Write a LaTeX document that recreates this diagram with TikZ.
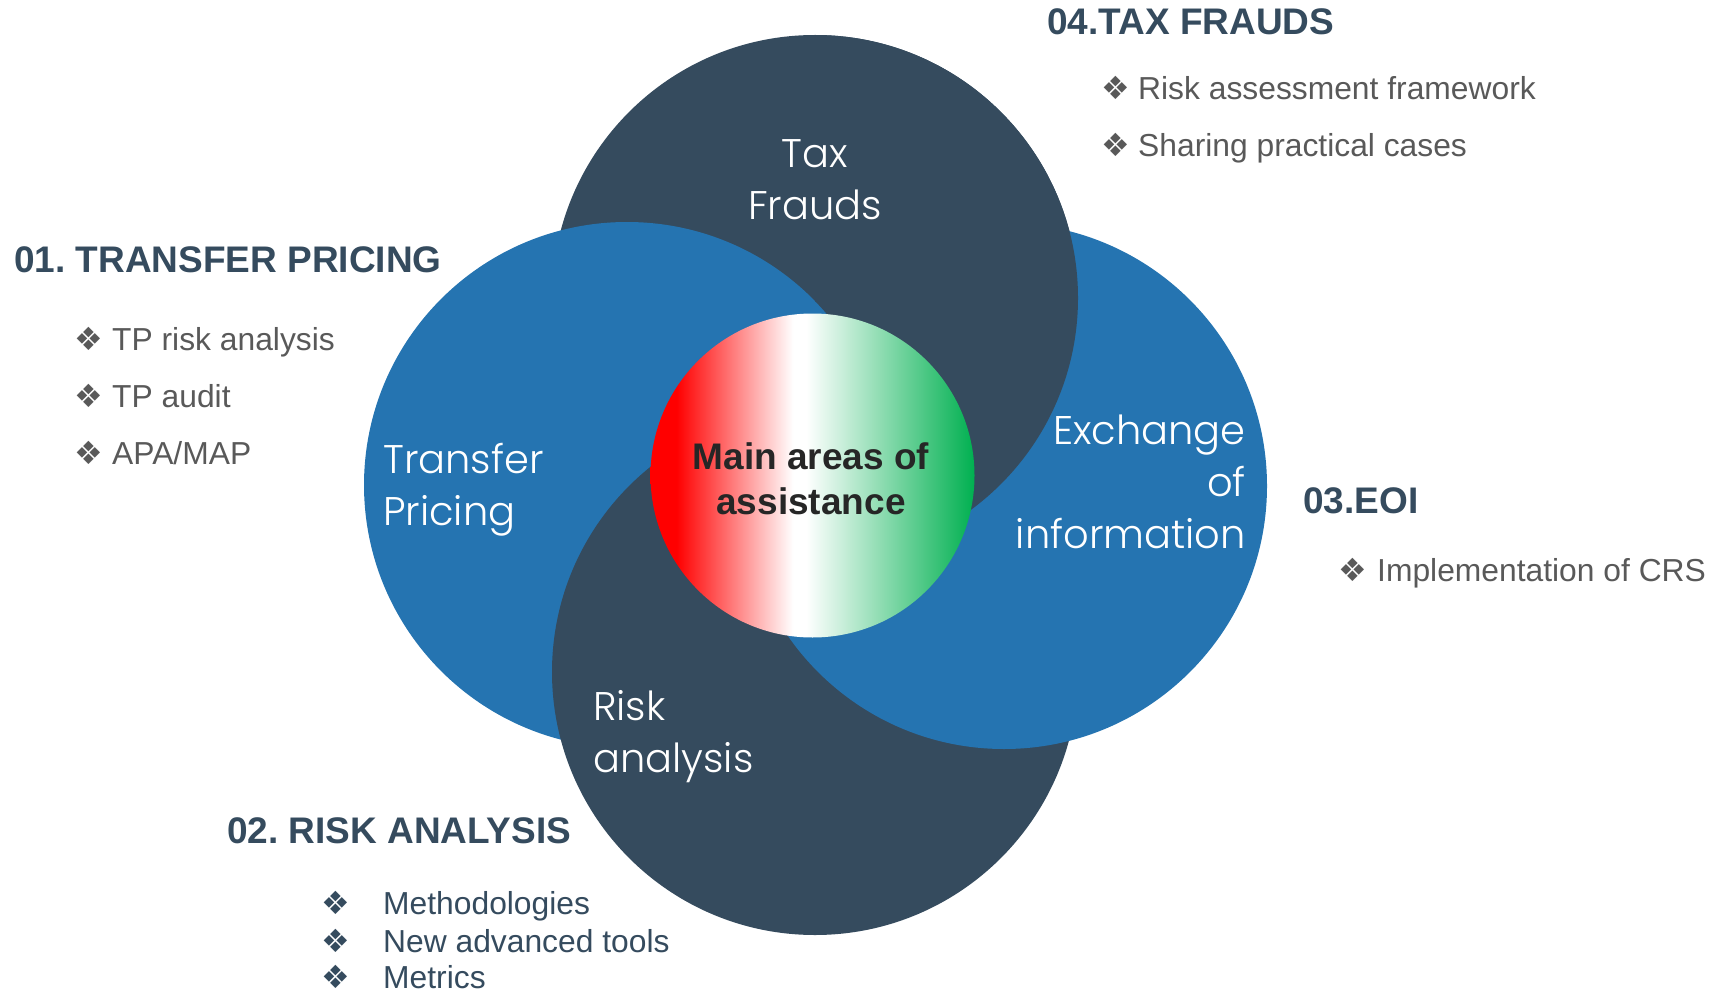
\documentclass[tikz,border=0pt]{standalone}
\usepackage{fontspec}
\setmainfont{Liberation Sans}
\newfontfamily\dingfont{DejaVu Sans}
\IfFontExistsTF{Poppins Light}{\newfontfamily\gothic{Poppins Light}}{%
  \IfFontExistsTF{Poppins-Light.ttf}{\newfontfamily\gothic{Poppins-Light.ttf}}{%
    \IfFontExistsTF{Poppins-Light.otf}{\newfontfamily\gothic{Poppins-Light.otf}}{%
      \newfontfamily\gothic{Poppins}}}}
\frenchspacing

\definecolor{slate}{HTML}{354B5E}
\definecolor{seablue}{HTML}{2574B1}
\definecolor{bodygray}{HTML}{595959}
\definecolor{hubink}{HTML}{262626}
\definecolor{flagred}{HTML}{FF0000}
\definecolor{flaggreen}{HTML}{00B050}

\pgfdeclarehorizontalshading{flag}{100bp}{color(0bp)=(flagred); color(29bp)=(flagred);
  color(47bp)=(white); color(49bp)=(white); color(75bp)=(flaggreen); color(100bp)=(flaggreen)}

\newcommand{\bul}[1]{\makebox[#1][l]{\fontsize{32}{32}\dingfont ❖}}

\begin{document}
\begin{tikzpicture}
[x=1pt, y=-1pt, inner sep=0pt,
darkdisc/.style={circle, fill=slate, minimum size=526pt},
bluedisc/.style={circle, fill=seablue, minimum size=526pt},
hubdisc/.style={circle, shade, shading=flag, minimum size=324pt},
disclabel/.style={text=white, font=\fontsize{40}{52}\gothic},
hubtext/.style={anchor=base, align=center, text=hubink, font=\bfseries\fontsize{37}{44.5}\selectfont},
heading/.style={anchor=base west, text=slate, font=\bfseries\fontsize{37}{44}\selectfont},
bulletitem/.style={anchor=base west, text=bodygray, font=\fontsize{31.8}{38}\selectfont},
bulletdark/.style={bulletitem, text=slate}]

\useasboundingbox (0,0) rectangle (1716,995);

% four discs, pinwheel order
\node[darkdisc] (fraudsdisc) at (815,298) {};
\node[bluedisc] (tpdisc) at (627,485) {};
\node[darkdisc] (riskdisc) at (815,672) {};
\node[bluedisc] (eoidisc) at (1004,486) {};
% frauds disc again over the EOI disc, but not over transfer pricing
\begin{scope}[even odd rule]
\clip (815,0) rectangle (1716,995);
\clip (0,0) rectangle (1716,995) (627,485) circle (263);
\node[darkdisc] (fraudsdisc) at (815,298) {};
\end{scope}

\node[hubdisc] (hub) at (812.5,475.5) {};
\node[hubtext] (hubtxt) at (811,514) {Main areas of\\assistance};

% base anchor sits on the last line
\node[disclabel, anchor=base, align=center] (fraudslbl) at (815,220) {Tax\\Frauds};
\node[disclabel, anchor=base west, align=left] (tplbl) at (383,525) {Transfer\\Pricing};
\node[disclabel, anchor=base east, align=right] (eoilbl) at (1246,548) {Exchange\\of\\information};
\node[disclabel, anchor=base west, align=left] (risklbl) at (593,772) {Risk\\analysis};

% 04
\node[heading] (h04) at (1047,35) {04.TAX FRAUDS};
\node[bulletitem] (f1) at (1101,100) {\bul{37pt}Risk assessment framework};
\node[bulletitem] (f2) at (1101,157) {\bul{37pt}Sharing practical cases};

% 01
\node[heading] (h01) at (14,272) {01. TRANSFER PRICING};
\node[bulletitem] (t1) at (74,350) {\bul{38pt}TP risk analysis};
\node[bulletitem] (t2) at (74,407) {\bul{38pt}TP audit};
\node[bulletitem] (t3) at (74,464) {\bul{38pt}APA/MAP};

% 03
\node[heading] (h03) at (1303,513) {03.EOI};
\node[bulletitem] (e1) at (1338,581) {\bul{39pt}Implementation of CRS};

% 02
\node[heading] (h02) at (227,843) {02. RISK ANALYSIS};
\node[bulletdark] (r1) at (321,914) {\bul{62pt}Methodologies};
\node[bulletdark] (r2) at (321,952) {\bul{62pt}New advanced tools};
\node[bulletdark] (r3) at (321,988) {\bul{62pt}Metrics};
\end{tikzpicture}
\end{document}
